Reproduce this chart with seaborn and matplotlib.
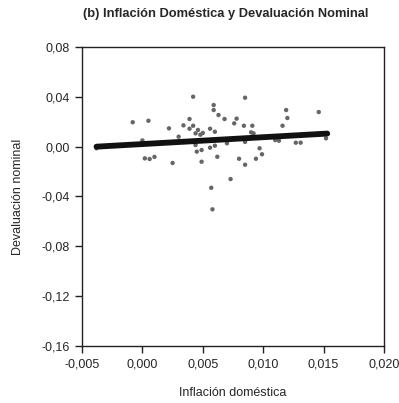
import numpy as np
import pandas as pd
import seaborn as sns
import matplotlib
matplotlib.use("Agg")
import matplotlib.pyplot as plt
from matplotlib.ticker import FuncFormatter

# Data
inflacion = [
    -0.0038, -0.0008, 0.0005, 0.0000, 0.0002, 0.0006, 0.0010, 0.0022, 0.0025, 0.0030,
    0.0034, 0.0039, 0.0042, 0.0039, 0.0042, 0.0044, 0.0046, 0.0048, 0.0050, 0.0044,
    0.0045, 0.0049, 0.0049, 0.0056, 0.0060, 0.0059, 0.0059, 0.0063, 0.0068, 0.0056,
    0.0060, 0.0062, 0.0057, 0.0058, 0.0070, 0.0073, 0.0085, 0.0078, 0.0076, 0.0084,
    0.0091, 0.0090, 0.0092, 0.0085, 0.0097, 0.0099, 0.0094, 0.0080, 0.0085, 0.0119,
    0.0120, 0.0116, 0.0110, 0.0113, 0.0127, 0.0131, 0.0146, 0.0152,
]
devaluacion = [
    -0.0013, 0.0196, 0.0208, 0.0050, -0.0094, -0.0099, -0.0082, 0.0147, -0.0131, 0.0080,
    0.0171, 0.0222, 0.0401, 0.0144, 0.0168, 0.0107, 0.0134, 0.0096, 0.0110, 0.0013,
    -0.0040, -0.0027, -0.0121, 0.0144, 0.0120, 0.0334, 0.0294, 0.0254, 0.0222, -0.0008,
    0.0008, -0.0081, -0.0330, -0.0503, 0.0027, -0.0260, 0.0393, 0.0225, 0.0187, 0.0168,
    0.0168, 0.0115, 0.0107, 0.0038, -0.0013, -0.0061, -0.0097, -0.0097, -0.0145, 0.0294,
    0.0230, 0.0168, 0.0053, 0.0048, 0.0032, 0.0032, 0.0278, 0.0067,
]
# fitted line end points
ajuste_x = [-0.0038, 0.0153]
ajuste_y = [0.0000, 0.0105]

x_ticks = [-0.005, 0.000, 0.005, 0.010, 0.015, 0.020]
y_ticks = [-0.16, -0.12, -0.08, -0.04, 0.00, 0.04, 0.08]

sns.set_style("ticks")
plt.rcParams['font.family'] = ['Liberation Sans', 'DejaVu Sans']
plt.rcParams['axes.unicode_minus'] = False

df = pd.DataFrame({'inflacion': inflacion, 'devaluacion': devaluacion})
fit_df = pd.DataFrame({'x': ajuste_x, 'y': ajuste_y})

fig = plt.figure(figsize=(3.99, 4.03), dpi=100)
ax = fig.add_axes([82 / 399, 1 - 346 / 403, (384 - 82) / 399, (346 - 47) / 403])

sns.scatterplot(data=df, x='inflacion', y='devaluacion', ax=ax,
                color='#666666', s=10, edgecolor='none', zorder=2)
sns.lineplot(data=fit_df, x='x', y='y', ax=ax, color='#111111',
             linewidth=4.2, solid_capstyle='round', zorder=3)

ax.set_xlim(x_ticks[0], x_ticks[-1])
ax.set_ylim(y_ticks[0], y_ticks[-1])
ax.set_xticks(x_ticks)
ax.set_yticks(y_ticks)
ax.xaxis.set_major_formatter(FuncFormatter(lambda v, p: f"{v:.3f}".replace('.', ',')))
ax.yaxis.set_major_formatter(FuncFormatter(lambda v, p: f"{v:.2f}".replace('.', ',')))

ax.tick_params(direction='out', length=5, width=1, labelsize=9, pad=4, color='#222222')
for side in ['top', 'right', 'bottom', 'left']:
    ax.spines[side].set_visible(True)
    ax.spines[side].set_linewidth(1)
    ax.spines[side].set_color('#222222')

ax.set_xlabel('Inflación doméstica', fontsize=9, labelpad=12)
ax.set_ylabel('Devaluación nominal', fontsize=9, labelpad=12)
fig.text(226 / 399, 1 - 14 / 403, '(b) Inflación Doméstica y Devaluación Nominal',
         fontsize=9.3, fontweight='bold', ha='center', va='center')

fig.savefig('out.png', dpi=100)
